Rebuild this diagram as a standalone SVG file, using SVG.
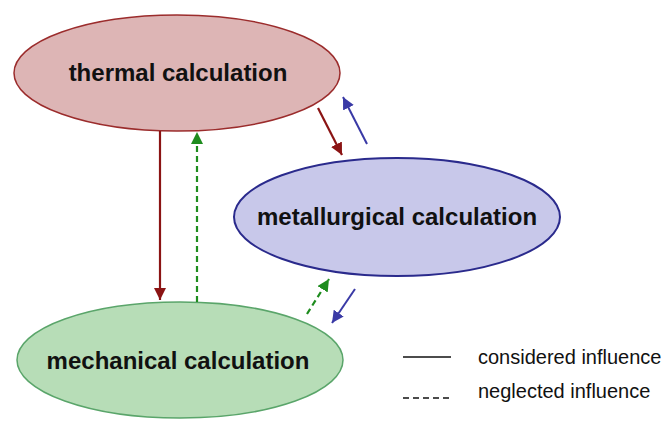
<svg xmlns="http://www.w3.org/2000/svg" width="664" height="423" viewBox="0 0 664 423">
<defs>
<marker id="hr" viewBox="0 0 10 10" refX="10" refY="5" markerWidth="5.5" markerHeight="5.5" orient="auto" markerUnits="strokeWidth"><path d="M0,0 L10,5 L0,10 z" fill="#8b1414"/></marker>
<marker id="hb" viewBox="0 0 10 10" refX="10" refY="5" markerWidth="6" markerHeight="6" orient="auto" markerUnits="strokeWidth"><path d="M0,0 L10,5 L0,10 z" fill="#3a3aa6"/></marker>
<marker id="hg" viewBox="0 0 10 10" refX="10" refY="5" markerWidth="5.5" markerHeight="5.5" orient="auto" markerUnits="strokeWidth"><path d="M0,0 L10,5 L0,10 z" fill="#1e8c1e"/></marker>
</defs>
<style>
.lbl{font-family:"Liberation Sans",Arial,sans-serif;font-weight:bold;font-size:24px;fill:#111;text-anchor:middle}
.leg{font-family:"Liberation Sans",Arial,sans-serif;font-size:20px;fill:#111}
.r{stroke:#8b1414;stroke-width:2.2;fill:none;marker-end:url(#hr)}
.b{stroke:#3a3aa6;stroke-width:2;fill:none;marker-end:url(#hb)}
.g{stroke:#1e8c1e;stroke-width:2.2;fill:none;stroke-dasharray:6,4;marker-end:url(#hg)}
</style>
<rect width="664" height="423" fill="#fff"/>
<g id="thermal">
<ellipse cx="177" cy="73" rx="163" ry="58" fill="#ddb5b5" stroke="#9b2c2c" stroke-width="1.5"/>
<text class="lbl" x="178" y="81">thermal calculation</text>
</g>
<g id="metallurgical">
<ellipse cx="397" cy="217" rx="163" ry="59" fill="#c8c8ea" stroke="#2a2a8c" stroke-width="2"/>
<text class="lbl" x="397" y="225">metallurgical calculation</text>
</g>
<g id="mechanical">
<ellipse cx="180" cy="360" rx="163" ry="58" fill="#b7ddb7" stroke="#5aa56a" stroke-width="1.5"/>
<text class="lbl" x="178" y="369">mechanical calculation</text>
</g>
<g id="connectors">
<line class="r" x1="160" y1="131" x2="160" y2="300"/>
<line class="g" x1="197" y1="302" x2="197" y2="132"/>
<line class="r" x1="318" y1="108" x2="342" y2="155"/>
<line class="b" x1="367" y1="144" x2="343" y2="97"/>
<line class="g" x1="307" y1="314" x2="329" y2="279"/>
<line class="b" x1="355" y1="289" x2="332" y2="323"/>
</g>
<g id="legend">
<line x1="403" y1="357" x2="451" y2="357" stroke="#111" stroke-width="1.5"/>
<line x1="403" y1="398" x2="451" y2="398" stroke="#111" stroke-width="1.5" stroke-dasharray="6,4"/>
<text class="leg" x="478" y="364">considered influence</text>
<text class="leg" x="478" y="398">neglected influence</text>
</g>
</svg>
